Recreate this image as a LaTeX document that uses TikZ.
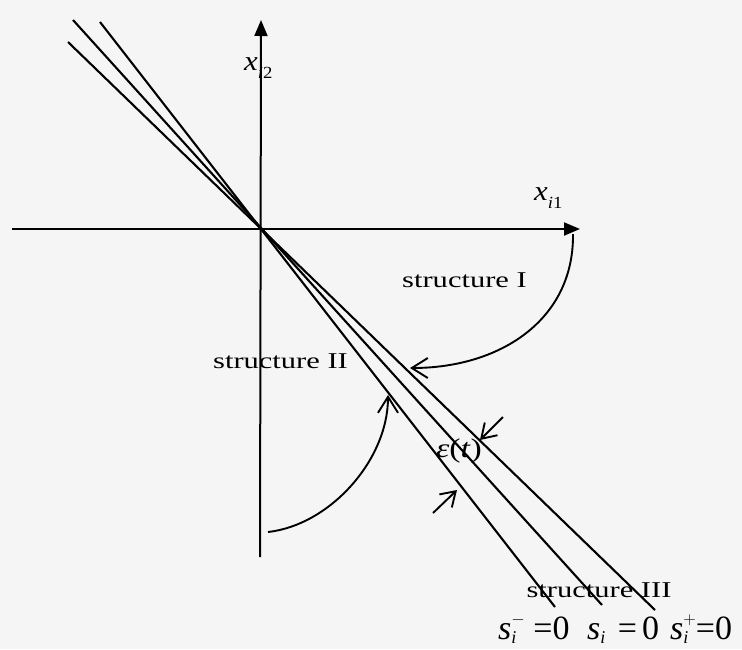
\documentclass[tikz,border=0pt]{standalone}
\usepackage{fontspec}
\setmainfont{Liberation Serif}
\usepackage{graphicx}
\usetikzlibrary{arrows.meta}

\newcommand{\wide}[2][1.35]{\scalebox{#1}[1]{#2}}
\newcommand{\svar}[1]{\textit{s}\rlap{\raisebox{-0.12em}{\fontsize{18}{18}\selectfont\textit{i}}}\raisebox{0.42em}{\fontsize{18}{18}\selectfont#1}}

\begin{document}
\begin{tikzpicture}[x=1pt,y=-1pt,
  ln/.style={line width=2.1pt},
  axis/.style={line width=2pt,-{Triangle[length=16pt,width=13pt]}},
  swing/.style={line width=1.9pt,-{Straight Barb[length=16pt,width=20pt]}},
  gap/.style={line width=1.9pt,-{Straight Barb[length=14pt,width=18pt]}},
  txt/.style={font=\fontsize{22.6}{26}\selectfont,inner sep=0pt},
  mth/.style={font=\fontsize{34}{38}\selectfont,inner sep=0pt}
]
  \fill[black!4] (0,0) rectangle (742,649);

  % axes
  \coordinate (O) at (260,228);
  \coordinate (xl) at (12,229);
  \coordinate (xr) at (580,229);
  \coordinate (yb) at (260,557);
  \coordinate (yt) at (261,20);
  \draw[axis] (xl) -- (xr);
  \draw[axis] (yb) -- (yt);
  \node[txt,anchor=base west] (xa) at (534,200)
    {\wide[1.1]{\fontsize{28}{30}\selectfont\textit{x}\raisebox{-0.3em}{\fontsize{17}{17}\selectfont\textit{i}1}}};
  \node[txt,anchor=base west] (ya) at (244,70)
    {\wide[1.1]{\fontsize{28}{30}\selectfont\textit{x}\raisebox{-0.3em}{\fontsize{17}{17}\selectfont\textit{i}2}}};

  % switching lines s_i^- = 0, s_i = 0, s_i^+ = 0
  \coordinate (mA) at (100,22);  \coordinate (mB) at (555,607);
  \coordinate (zA) at (73,20);   \coordinate (zB) at (602,605);
  \coordinate (pA) at (68,42);   \coordinate (pB) at (655,610);
  \draw[ln] (mA) -- (mB);
  \draw[ln] (zA) -- (zB);
  \draw[ln] (pA) -- (pB);

  % structures
  \node[txt,anchor=base] (s1) at (464.5,287) {\wide{structure I}};
  \node[txt,anchor=base] (s2) at (280.5,368) {\wide{structure II}};
  \node[txt,anchor=base] (s3) at (599,597) {\wide{structure III}};

  \coordinate (c1a) at (573,234);
  \coordinate (c1b) at (410,368);
  \draw[swing] (c1a) .. controls (574,320) and (500,368) .. (c1b);
  \coordinate (c2a) at (268,532);
  \coordinate (c2b) at (388,395);
  \draw[swing] (c2a) .. controls (330,525) and (388,460) .. (c2b);

  % boundary layer width
  \node[txt,anchor=center] (eps) at (459,451)
    {\wide[1.25]{\fontsize{27}{30}\selectfont\textit{ε}(\textit{t})}};
  \coordinate (g1a) at (503,417);
  \coordinate (g1b) at (480,440);
  \coordinate (g2a) at (433,513);
  \coordinate (g2b) at (457,490);
  \draw[gap] (g1a) -- (g1b);
  \draw[gap] (g2a) -- (g2b);

  % line labels
  \node[mth,anchor=base west] (lm) at (498,639) {\svar{$-$} =0};
  \node[mth,anchor=base west] (lz) at (587,639) {\svar{\phantom{$+$}}\hspace{0.15em}=\hspace{0.15em}0};
  \node[mth,anchor=base west] (lp) at (670,639) {\svar{$+$}=0};
\end{tikzpicture}
\end{document}
